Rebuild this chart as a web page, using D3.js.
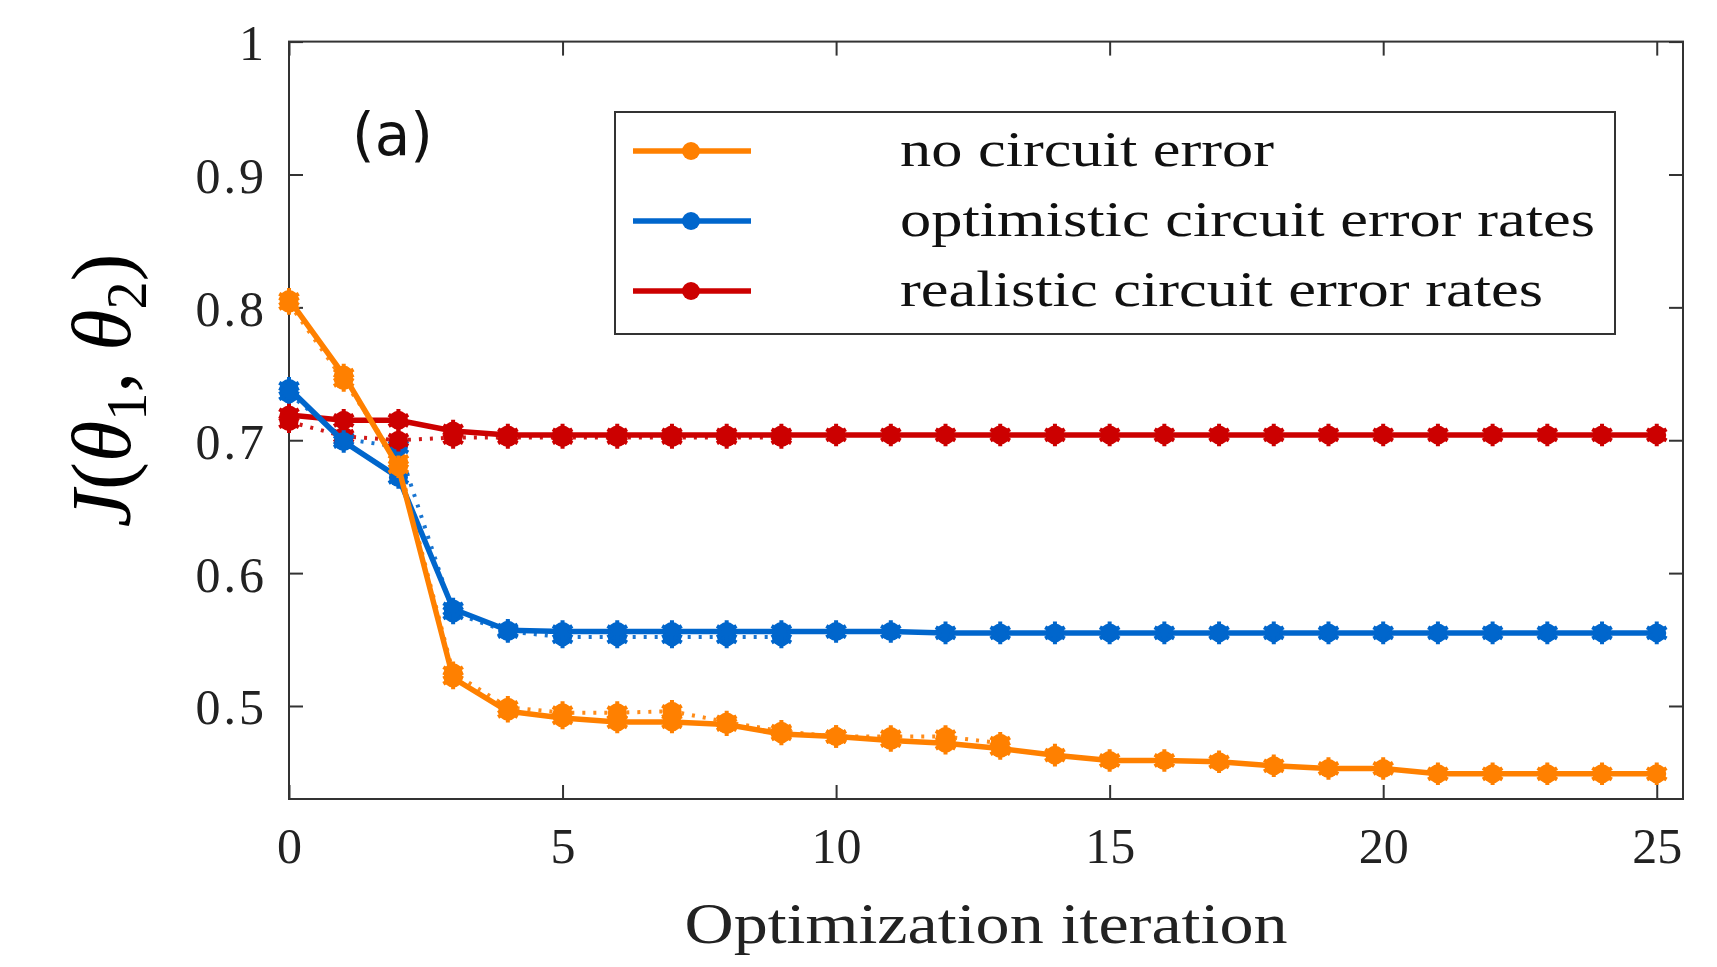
<!DOCTYPE html>
<html>
<head>
<meta charset="utf-8">
<script src="https://cdn.jsdelivr.net/npm/d3@7"></script>
<style>
  html, body { margin: 0; padding: 0; background: #fff; }
  svg { display: block; }
</style>
</head>
<body>
<div id="chart"></div>
<script>
// J(theta1, theta2) vs optimization iteration
const iterations = d3.range(0, 26);

const noError = [0.806, 0.749, 0.680, 0.521, 0.496, 0.491, 0.488, 0.488, 0.486, 0.479,
  0.477, 0.474, 0.472, 0.468, 0.463, 0.459, 0.459, 0.458, 0.455, 0.453,
  0.453, 0.449, 0.449, 0.449, 0.449, 0.449];
const optimistic = [0.739, 0.699, 0.672, 0.573, 0.557, 0.556, 0.556, 0.556, 0.556, 0.556,
  0.556, 0.556, 0.555, 0.555, 0.555, 0.555, 0.555, 0.555, 0.555, 0.555,
  0.555, 0.555, 0.555, 0.555, 0.555, 0.555];
const realistic = [0.719, 0.715, 0.715, 0.707, 0.704, 0.704, 0.704, 0.704, 0.704, 0.704,
  0.704, 0.704, 0.704, 0.704, 0.704, 0.704, 0.704, 0.704, 0.704, 0.704,
  0.704, 0.704, 0.704, 0.704, 0.704, 0.704];

// faint dotted runs partly hidden behind the solid ones
const noErrorDotted = [0.803, 0.745, 0.684, 0.525, 0.499, 0.495, 0.495, 0.496, 0.488, 0.481,
  0.477, 0.477, 0.477, 0.472];
const optimisticDotted = [0.735, 0.701, 0.695, 0.570, 0.556, 0.552, 0.552, 0.552, 0.552, 0.552];
const realisticDotted = [0.714, 0.703, 0.700, 0.702, 0.702, 0.702, 0.702, 0.702, 0.702, 0.702];

const seriesNames = ["no circuit error", "optimistic circuit error rates", "realistic circuit error rates"];
const seriesColors = ["#ff8000", "#0066cc", "#cc0000"];

const xTicks = [0, 5, 10, 15, 20, 25];
const yTicks = [0.5, 0.6, 0.7, 0.8, 0.9, 1];

const W = 1717, H = 967;
const svg = d3.select("#chart").append("svg").attr("width", W).attr("height", H);

const mLeft = 289, mRight = 1683, mTop = 41.6, mBottom = 799;
const x = d3.scaleLinear().domain([0, 25.48]).range([mLeft, mRight]);
const y = d3.scaleLinear().domain([0.43, 1]).range([mBottom, mTop]);

const serif = "'Liberation Serif', 'Times New Roman', Times, serif";
const tickLen = 14;

// axes with inward ticks, mirrored on top/right
const axisColor = "#333";
const gx = svg.append("g").attr("transform", `translate(0,${mBottom})`)
  .call(d3.axisBottom(x).tickValues(xTicks).tickSize(-tickLen).tickPadding(28).tickFormat(d3.format("d")));
const gxTop = svg.append("g").attr("transform", `translate(0,${mTop})`)
  .call(d3.axisTop(x).tickValues(xTicks).tickSize(-tickLen).tickFormat(""));
const gy = svg.append("g").attr("transform", `translate(${mLeft},0)`)
  .call(d3.axisLeft(y).tickValues(yTicks).tickSize(-tickLen).tickPadding(22).tickFormat(d => d === 1 ? "1" : d3.format(".1f")(d)));
const gyRight = svg.append("g").attr("transform", `translate(${mRight},0)`)
  .call(d3.axisRight(y).tickValues(yTicks).tickSize(-tickLen).tickFormat(""));

[gx, gxTop, gy, gyRight].forEach(g => {
  g.select(".domain").remove();
  g.selectAll(".tick line").attr("stroke", axisColor).attr("stroke-width", 2);
  g.selectAll(".tick text").attr("font-family", serif).attr("font-size", 50).attr("fill", "#222");
});
gy.selectAll(".tick text").attr("dy", "0.36em").attr("letter-spacing", 3);

svg.append("rect")
  .attr("x", mLeft).attr("y", mTop)
  .attr("width", mRight - mLeft).attr("height", mBottom - mTop)
  .attr("fill", "none").attr("stroke", axisColor).attr("stroke-width", 2);

// marker: filled disc with a jagged asterisk-like rim
const starPath = d3.symbol().type(d3.symbolAsterisk).size(360)();

function drawSeries(values, color, dotted) {
  const pts = values.map((v, i) => [iterations[i], v]);
  const line = d3.line().x(d => x(d[0])).y(d => y(d[1]));
  const g = svg.append("g");
  g.append("path")
    .attr("d", line(pts))
    .attr("fill", "none")
    .attr("stroke", color)
    .attr("stroke-width", dotted ? 4 : 5.5)
    .attr("stroke-dasharray", dotted ? "3,8" : null)
    .attr("opacity", dotted ? 0.9 : 1);
  const m = g.selectAll("g.mk").data(pts).join("g")
    .attr("class", "mk")
    .attr("transform", d => `translate(${x(d[0])},${y(d[1])})`);
  m.append("circle").attr("r", 9.5).attr("fill", color);
  m.append("path").attr("d", starPath).attr("stroke", color).attr("stroke-width", 4).attr("fill", "none");
}

drawSeries(noErrorDotted, seriesColors[0], true);
drawSeries(optimisticDotted, seriesColors[1], true);
drawSeries(realisticDotted, seriesColors[2], true);
drawSeries(realistic, seriesColors[2], false);
drawSeries(optimistic, seriesColors[1], false);
drawSeries(noError, seriesColors[0], false);

// legend
const legend = svg.append("g");
legend.append("rect")
  .attr("x", 615).attr("y", 112).attr("width", 1000).attr("height", 222)
  .attr("fill", "#fff").attr("stroke", axisColor).attr("stroke-width", 2);
seriesNames.forEach((name, i) => {
  const cy = 151 + i * 70;
  legend.append("line")
    .attr("x1", 633).attr("x2", 751).attr("y1", cy).attr("y2", cy)
    .attr("stroke", seriesColors[i]).attr("stroke-width", 5.5);
  legend.append("circle").attr("cx", 691).attr("cy", cy).attr("r", 9).attr("fill", seriesColors[i]);
  legend.append("text")
    .attr("x", 900).attr("y", cy + 15)
    .attr("font-family", serif).attr("font-size", 50).attr("fill", "#111")
    .attr("textLength", [374, 695, 643][i]).attr("lengthAdjust", "spacingAndGlyphs")
    .text(name);
});

// panel tag
svg.append("text")
  .attr("x", 352).attr("y", 155)
  .attr("font-family", "'DejaVu Sans', sans-serif").attr("font-size", 58).attr("fill", "#111")
  .text("(a)");

// axis titles
svg.append("text")
  .attr("x", (mLeft + mRight) / 2).attr("y", 943)
  .attr("text-anchor", "middle")
  .attr("font-family", serif).attr("font-size", 56).attr("fill", "#222")
  .attr("textLength", 603).attr("lengthAdjust", "spacingAndGlyphs")
  .text("Optimization iteration");

const yl = svg.append("text")
  .attr("transform", `translate(130,${(mTop + mBottom) / 2 - 30}) rotate(-90)`)
  .attr("text-anchor", "middle")
  .attr("font-family", serif).attr("font-size", 84).attr("fill", "#000");
yl.append("tspan").attr("font-style", "italic").text("J");
yl.append("tspan").text("(");
yl.append("tspan").attr("font-style", "italic").text("θ");
yl.append("tspan").attr("font-size", 56).attr("dy", 16).text("1");
yl.append("tspan").attr("dy", -16).text(", ");
yl.append("tspan").attr("font-style", "italic").text("θ");
yl.append("tspan").attr("font-size", 56).attr("dy", 16).text("2");
yl.append("tspan").attr("dy", -16).text(")");
</script>
</body>
</html>
